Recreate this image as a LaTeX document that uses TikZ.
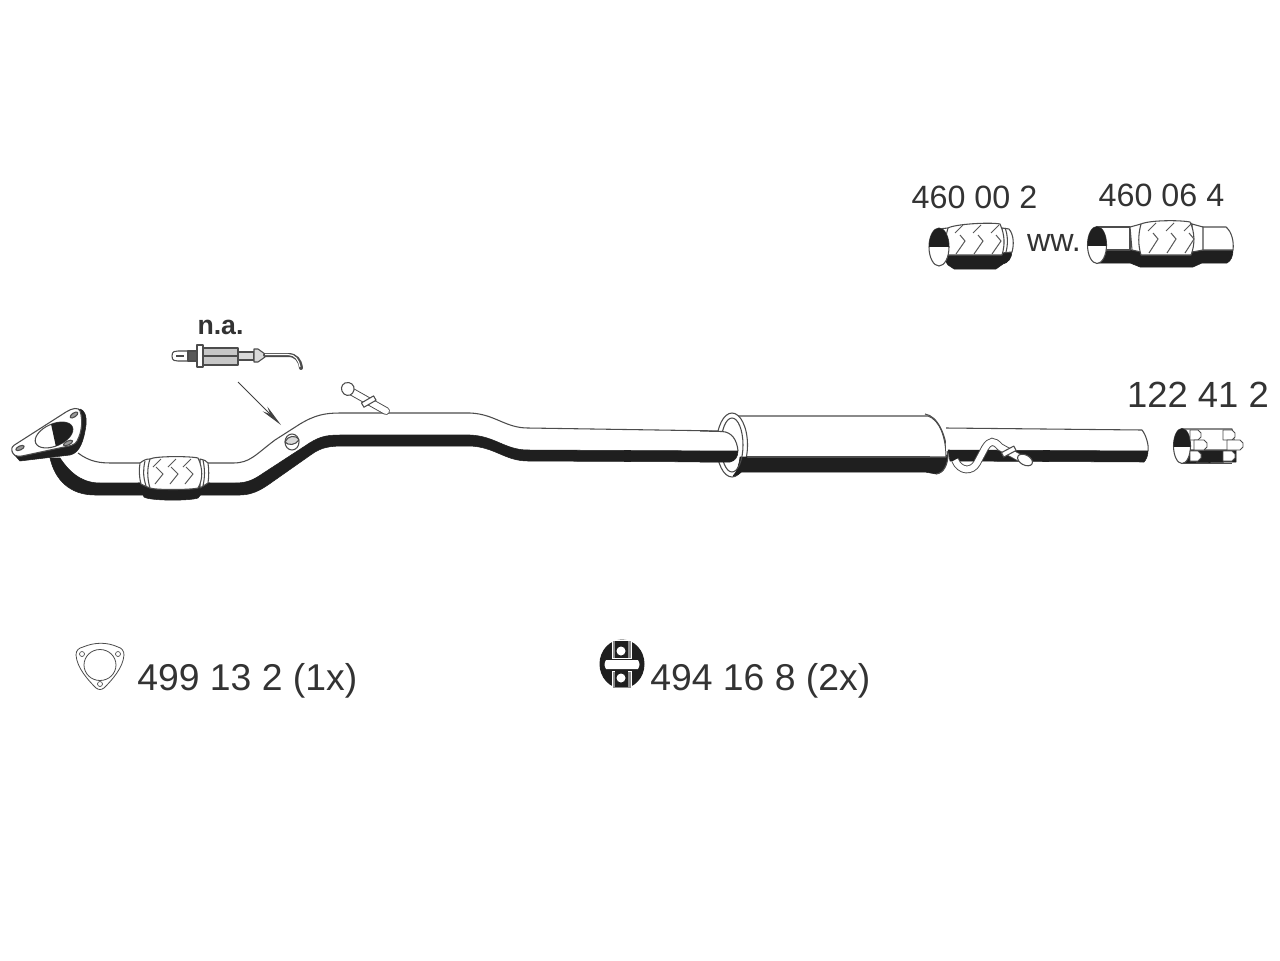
\documentclass[tikz,border=0pt]{standalone}
\usepackage{fontspec}
\setmainfont{Liberation Sans}
\usetikzlibrary{arrows.meta}
\tikzstyle{outline}=[draw=black!70,line width=0.8pt,line join=round]
\tikzstyle{whitepart}=[outline,fill=white]
\tikzstyle{blackpart}=[fill=black!88,draw=black!88,line width=0.4pt,line join=round]
\tikzstyle{weave}=[draw=black!65,line width=0.75pt]
\tikzstyle{partno}=[font=\fontsize{24.2pt}{28pt}\selectfont,text=black!80,inner sep=0pt]
\tikzstyle{bigpartno}=[font=\fontsize{28pt}{30pt}\selectfont,text=black!80,inner sep=0pt]
\tikzstyle{thintube}=[double=white,draw=black!70,line width=0.7pt,double distance=4.5pt,line cap=round]
\begin{document}
\begin{tikzpicture}[x=0.75pt,y=-0.75pt]
\useasboundingbox (0,0) rectangle (1280,960);
% front pipe
\fill[white] (62,450) -- (78,453) .. controls (90,462) and (100,463) .. (112,463) -- (233,463)
    .. controls (250,463) and (255,455) .. (275,440) -- (300,424) .. controls (315,415) and (325,413) .. (340,413)
    -- (470,413) .. controls (495,414) and (505,428) .. (528,428) -- (730,431) -- (730,455) -- (528,452)
    -- (400,437) -- (100,487) -- cycle;
\draw[outline] (78,453) .. controls (90,462) and (100,463) .. (112,463) -- (233,463)
    .. controls (250,463) and (255,455) .. (275,440) -- (300,424) .. controls (315,415) and (325,413) .. (340,413)
    -- (470,413) .. controls (495,414) and (505,428) .. (528,428) -- (722,431);
\draw[blackpart] (50,458) .. controls (55,480) and (70,495) .. (95,495) -- (240,495)
    .. controls (255,495) and (265,487) .. (275,480) -- (312,454) .. controls (322,447) and (330,446) .. (345,446)
    -- (470,446) .. controls (495,447) and (505,461) .. (528,461) -- (730,462) -- (730,451) -- (528,450)
    .. controls (505,450) and (495,436) .. (470,435) -- (340,435) .. controls (325,435) and (318,437) .. (305,446)
    -- (262,474) .. controls (252,481) and (245,483) .. (235,483) -- (100,483)
    .. controls (80,483) and (68,470) .. (60,458) -- cycle;
% flange
\draw[blackpart] (12,452) -- (20,461) -- (70,455) .. controls (80,453) and (84,440) .. (86,425)
    .. controls (87,415) and (84,410) .. (80,409) -- cycle;
\draw[whitepart] (12,451) .. controls (11,447) and (13,446) .. (16,444) -- (66,412) .. controls (72,408) and (79,407) .. (80,411)
    .. controls (83,420) and (82,432) .. (77,441) .. controls (75,445) and (70,446) .. (64,447)
    -- (22,456) .. controls (16,457) and (13,455) .. (12,451) -- cycle;
\draw[whitepart,rotate around={24:(54,435)}] (54,435) ellipse (20 and 11);
\begin{scope}
\clip[rotate around={24:(54,435)}] (54,435) ellipse (20 and 11);
\fill[black!88] (48,410) -- (90,410) -- (90,445) -- (56,447) -- cycle;
\end{scope}
\draw[outline,fill=black!40,rotate around={25:(20,448)}] (20,448) ellipse (4.5 and 2);
\draw[outline,fill=black!40,rotate around={35:(74,415)}] (74,415) ellipse (4.5 and 2);
\draw[outline,fill=black!40,rotate around={25:(68,443)}] (68,443) ellipse (5 and 2);
% front flex
\draw[blackpart] (138,483) -- (144,497) .. controls (150,501) and (190,501) .. (198,498) -- (210,483) -- cycle;
\draw[whitepart] (140,463) .. controls (144,460) and (146,459) .. (150,459) -- (150,488) -- (145,486) -- (141,484)
    .. controls (139,476) and (139,470) .. (140,463) -- cycle;
\draw[whitepart] (200,459) .. controls (204,460) and (207,461) .. (208,463)
    .. controls (209,470) and (209,476) .. (208,483) -- (200,488) -- cycle;
\draw[whitepart] (150,459) .. controls (155,456) and (190,456) .. (198,458)
    .. controls (203,468) and (203,480) .. (198,488) .. controls (190,490) and (155,490) .. (150,488)
    .. controls (147,478) and (147,468) .. (150,459) -- cycle;
\draw[outline] (145,461) .. controls (143,470) and (143,476) .. (146,486);
\draw[outline] (203,460) .. controls (205,470) and (205,476) .. (203,486);
\foreach \xk in {160,175,190}{
  \draw[weave] (\xk-4,467) -- (\xk+3,474) -- (\xk-5,484);
  \draw[weave] (\xk-7,467) -- (\xk+1,459);
}
% pipe boss
\draw[whitepart] (292,442) ellipse (7 and 8);
\draw[outline,fill=black!15] (285,442) .. controls (287,436) and (296,434) .. (299,440) .. controls (296,445) and (288,446) .. (285,442) -- cycle;
% sensor
\draw[whitepart] (172,356) .. controls (172,351) and (175,351) .. (178,351) -- (190,351) -- (190,361) -- (178,361) .. controls (175,361) and (172,361) .. (172,356) -- cycle;
\draw[outline] (176,356) -- (184,356);
\draw[outline,fill=black!65] (188,351) rectangle (197,361);
\draw[whitepart] (197,345) rectangle (203,367);
\draw[outline,fill=black!22] (203,348) rectangle (238,365);
\draw[outline] (203,356) -- (238,356);
\draw[outline,fill=black!15] (238,352) -- (254,352) -- (254,360) -- (238,360) -- cycle;
\draw[outline,fill=black!15] (254,349) -- (258,349) -- (265,354) -- (265,357) -- (258,362) -- (254,362) -- cycle;
\draw[draw=black!70,line width=3pt,line cap=round] (265,355) -- (288,355) .. controls (296,355) and (300,360) .. (301,368);
\draw[white,line width=0.8pt] (265,354.5) -- (288,354.5) .. controls (295,354.5) and (299,360) .. (300,367);
\coordinate (arrowstart) at (238,382);
\coordinate (arrowtip) at (281,425);
\draw[black!75,line width=0.6pt,-{Stealth[length=17pt,width=5pt]}] (arrowstart) -- (arrowtip);
% bolt on pipe
\draw[thintube] (347,389) -- (386,411);
\draw[whitepart] (345,383) .. controls (350,381) and (355,385) .. (354,390) .. controls (353,395) and (348,397) .. (344,394) .. controls (340,390) and (341,385) .. (345,383) -- cycle;
\draw[whitepart,rotate around={-60:(369,402)}] (366,395) rectangle (371,409);
% muffler
\draw[blackpart] (738,457) -- (930,457) -- (948,455) .. controls (947,465) and (944,473) .. (936,474) -- (925,472) -- (738,472) -- cycle;
\draw[whitepart] (738,416) -- (928,416) .. controls (940,420) and (946,438) .. (946,457) -- (738,457) -- cycle;
\draw[outline] (738,457) -- (930,457);
\draw[outline] (925,414) .. controls (938,416) and (946,435) .. (948,457) .. controls (947,465) and (944,473) .. (936,474);
\draw[whitepart] (732,445) ellipse (15.5 and 32);
\draw[blackpart] (740,457) .. controls (739,465) and (737,472) .. (733,476) .. controls (739,476) and (746,470) .. (747,457) -- cycle;
\draw[outline] (732,445) ellipse (11 and 27);
\fill[white] (700,431.5) -- (722,431.5) .. controls (732,432) and (737,440) .. (738,451) -- (700,451) -- cycle;
\draw[outline] (700,431) -- (722,431.5) .. controls (732,432) and (737,440) .. (738,451);
\draw[blackpart] (700,451) -- (738,451) .. controls (738,457) and (735,461) .. (730,462) -- (700,462) -- cycle;
% tail pipe
\fill[white] (946,428) -- (1142,430) .. controls (1146,435) and (1149,445) .. (1148,451) -- (946,451) -- cycle;
\draw[outline] (946,428) -- (1142,430) .. controls (1146,435) and (1149,445) .. (1148,451);
\draw[blackpart] (948,450) -- (1148,451) .. controls (1148,456) and (1146,460) .. (1144,462) -- (950,461) -- cycle;
% hanger rod
\draw[thintube,line cap=butt] (955,460) .. controls (960,472) and (972,472) .. (977,463) -- (985,448) .. controls (990,440) and (994,440) .. (1000,447) -- (1020,458);
\draw[whitepart,rotate around={-62:(1009,452)}] (1006,445) rectangle (1011,459);
\draw[whitepart,rotate around={-28:(1025,460)}] (1025,460) ellipse (8 and 5);
% clamp
\draw[blackpart] (1182,450) -- (1236,450) -- (1236,462) -- (1182,463) -- cycle;
\draw[whitepart] (1183,429) -- (1232,429) -- (1236,450) -- (1183,450) -- cycle;
\draw[outline] (1183,463.5) -- (1232,463.5);
\draw[whitepart] (1182,446) ellipse (8.5 and 17.5);
\begin{scope}
\clip (1182,446) ellipse (8.5 and 17.5);
\fill[black!88] (1170,425) rectangle (1195,447);
\end{scope}
\foreach \xk/\yk/\wk in {1190/430/11,1194/440/13,1190/451/11,1223/430/12,1227/440/16,1223/451/12}{
  \draw[whitepart,line width=0.7pt] (\xk,\yk) -- (\xk+\wk-3,\yk) -- (\xk+\wk,\yk+3) -- (\xk+\wk,\yk+7) -- (\xk+\wk-3,\yk+10) -- (\xk,\yk+10) -- cycle;
}
% flex 460 00 2
\draw[blackpart] (940,253) -- (1012,251) .. controls (1012,258) and (1008,263) .. (1003,264) -- (996,269) -- (954,269) -- (948,265) -- cycle;
\draw[whitepart] (938,229) -- (948,228) -- (948,253) -- (942,253) -- cycle;
\draw[whitepart] (1002,228) -- (1009,229) .. controls (1014,235) and (1014,245) .. (1012,252) -- (1002,253) -- cycle;
\draw[whitepart] (948,228) .. controls (955,224) and (990,222) .. (1000,224) .. controls (1005,235) and (1005,245) .. (1002,255) -- (948,255) .. controls (945,245) and (945,238) .. (948,228) -- cycle;
\draw[outline] (1005,228) .. controls (1008,235) and (1008,245) .. (1006,252);
\foreach \xk in {964,982,1000}{
  \draw[weave] (\xk-4,235) -- (\xk+1,241) -- (\xk-8,254);
  \draw[weave] (\xk-9,233) -- (\xk-1,225);
}
\draw[whitepart] (939,247) ellipse (10 and 19);
\begin{scope}
\clip (939,247) ellipse (10 and 19);
\fill[black!88] (925,225) rectangle (955,247);
\end{scope}
% flex 460 06 4
\draw[blackpart] (1098,250) -- (1233,250) .. controls (1233,256) and (1231,261) .. (1227,263) -- (1202,263) -- (1193,267) -- (1140,267) -- (1130,263) -- (1098,263) -- cycle;
\draw[whitepart] (1098,227) -- (1130,227) -- (1130,250) -- (1098,250) -- cycle;
\draw[whitepart] (1202,227) -- (1226,227) .. controls (1232,232) and (1234,242) .. (1233,250) -- (1202,250) -- cycle;
\draw[whitepart] (1130,227) -- (1141,224) -- (1141,252) -- (1132,250) -- cycle;
\draw[whitepart] (1192,224) -- (1203,227) -- (1203,250) -- (1192,252) -- cycle;
\draw[whitepart] (1141,224) .. controls (1150,220) and (1180,220) .. (1190,222) .. controls (1195,232) and (1195,245) .. (1191,255) -- (1141,255) .. controls (1138,245) and (1138,235) .. (1141,224) -- cycle;
\foreach \xk in {1157,1175,1193}{
  \draw[weave] (\xk-4,233) -- (\xk+1,239) -- (\xk-8,253);
  \draw[weave] (\xk-9,231) -- (\xk-1,223);
}
\draw[whitepart] (1097,245) ellipse (9.5 and 18.5);
\begin{scope}
\clip (1097,245) ellipse (9.5 and 18.5);
\fill[black!88] (1085,225) rectangle (1110,246);
\end{scope}
% gasket
\draw[whitepart,line width=0.6pt] (76,655) .. controls (76,650) and (79,648) .. (83,647) .. controls (95,642) and (107,642) .. (118,647)
    .. controls (122,648) and (124,651) .. (124,655) .. controls (123,668) and (112,680) .. (104,688)
    .. controls (101,690) and (99,690) .. (96,688) .. controls (88,680) and (77,668) .. (76,655) -- cycle;
\draw[outline,line width=0.6pt] (100,665) ellipse (16 and 15.5);
\draw[outline,line width=0.5pt] (82,654) circle (2.5);
\draw[outline,line width=0.5pt] (118,654) circle (2.5);
\draw[outline,line width=0.5pt] (100,684) circle (2.5);
% rubber mount
\fill[black!88] (622,664) ellipse (22.5 and 24.5);
\fill[white] (606,660) .. controls (604,664) and (604,665) .. (606,669) -- (638,669) .. controls (640,665) and (640,664) .. (638,660) -- cycle;
\draw[fill=black!45,draw=white,line width=0.6pt] (612,640) rectangle (631,658);
\draw[fill=black!45,draw=white,line width=0.6pt] (612,671) rectangle (631,688);
\fill[black!88] (615,641) rectangle (628,658);
\fill[black!88] (615,671) rectangle (628,687);
\fill[white] (621,651) circle (4.5);
\fill[white] (621,678) circle (4.5);
% labels
\node[partno] (flexa) at (974.5,197) {460 00 2};
\node[partno] (flexb) at (1161.5,195) {460 06 4};
\node[partno] (orword) at (1054,243) {ww.};
\node[bigpartno,font=\fontsize{27.3pt}{30pt}\selectfont] (clampno) at (1198,395) {122 41 2};
\node[bigpartno,anchor=base west] (gasketno) at (137,690) {499 13 2 (1x)};
\node[bigpartno,anchor=base west] (mountno) at (650,690) {494 16 8 (2x)};
\node[font=\bfseries\fontsize{20pt}{22pt}\selectfont,text=black!80,inner sep=0pt] (sensorno) at (220.5,327) {n.a.};
\end{tikzpicture}
\end{document}
